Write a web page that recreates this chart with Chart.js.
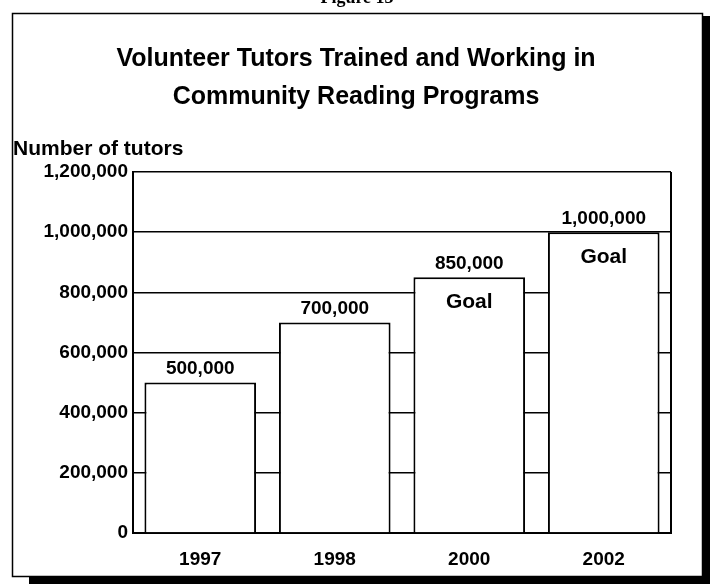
<!DOCTYPE html>
<html>
<head>
<meta charset="utf-8">
<script src="https://cdn.jsdelivr.net/npm/chart.js@4/dist/chart.umd.min.js"></script>
<style>
  html, body { margin: 0; padding: 0; background: #fff; }
  #wrap { width: 710px; height: 584px; }
</style>
</head>
<body>
<div id="wrap"><canvas id="chart" width="710" height="584"></canvas></div>
<script>
// ── Données ─────────────────────────────────────────────────────────
const years       = ['1997', '1998', '2000', '2002']
const tutors      = [500000, 700000, 850000, 1000000]
const valueLabels = ['500,000', '700,000', '850,000', '1,000,000']
const goalFlags   = [false, false, true, true]
const yTicks      = [0, 200000, 400000, 600000, 800000, 1000000, 1200000]

const titleLines = ['Volunteer Tutors Trained and Working in', 'Community Reading Programs']
const axisTitle  = 'Number of tutors'
const figureNote = 'Figure 13'

const FONT = '"Liberation Sans", Arial, sans-serif'

// ── Cadre, titres, étiquettes ──────────────────────────────────────
const decor = {
    id: 'decor',
    beforeDraw(chart) {
        const c = chart.ctx
        c.save()
        // ombre du cadre
        c.fillStyle = '#000'
        c.fillRect(703, 16, 7, 568)
        c.fillRect(29, 577, 681, 7)
        // cadre
        c.strokeStyle = '#000'
        c.lineWidth = 1.5
        c.strokeRect(12.5, 13.5, 690, 563)
        // note figure (coupée en haut)
        c.fillStyle = '#000'
        c.textAlign = 'center'
        c.textBaseline = 'alphabetic'
        c.font = 'bold 18px "Liberation Serif", serif'
        c.fillText(figureNote, 357, 3)
        // titre
        c.font = 'bold 25px ' + FONT
        c.textBaseline = 'middle'
        c.fillText(titleLines[0], 356, 59)
        c.fillText(titleLines[1], 356, 97)
        // titre de l'axe
        c.textAlign = 'left'
        c.font = 'bold 21px ' + FONT
        c.fillText(axisTitle, 13, 149)
        c.restore()
    },
    beforeDatasetsDraw(chart) {
        const { ctx: c, chartArea: a } = chart
        c.save()
        c.strokeStyle = '#000'
        c.lineWidth = 2
        c.beginPath()
        c.moveTo(a.right, a.top)
        c.lineTo(a.right, a.bottom)
        c.moveTo(a.left, a.bottom)
        c.lineTo(a.right, a.bottom)
        c.stroke()
        c.restore()
    },
    afterDatasetsDraw(chart) {
        const c = chart.ctx
        const bars = chart.getDatasetMeta(0).data
        c.save()
        c.fillStyle = '#000'
        c.textAlign = 'center'
        bars.forEach((bar, i) => {
            c.font = 'bold 19px ' + FONT
            c.textBaseline = 'bottom'
            c.fillText(valueLabels[i], bar.x, bar.y - 4)
            if (goalFlags[i]) {
                c.font = 'bold 21px ' + FONT
                c.textBaseline = 'middle'
                c.fillText('Goal', bar.x, bar.y + 25)
            }
        })
        c.restore()
    }
}

new Chart(document.getElementById('chart'), {
    type: 'bar',
    data: {
        labels: years,
        datasets: [{
            data: tutors,
            backgroundColor: '#fff',
            borderColor: '#000',
            borderWidth: 2,
            categoryPercentage: 1,
            barPercentage: 0.83,
        }]
    },
    options: {
        responsive: false,
        animation: false,
        layout: { padding: { top: 172, right: 39, bottom: 11, left: 0 } },
        plugins: { legend: { display: false }, title: { display: false }, tooltip: { enabled: false } },
        scales: {
            x: {
                grid: { display: false, drawTicks: false },
                border: { display: true, color: '#000', width: 2 },
                ticks: { color: '#000', font: { family: FONT, size: 19, weight: 'bold' }, padding: 15 },
                afterFit: (s) => { s.height = 40 }
            },
            y: {
                min: 0,
                max: 1200000,
                afterBuildTicks: (s) => { s.ticks = yTicks.map(v => ({ value: v })) },
                grid: { color: '#000', lineWidth: 1.5, drawTicks: false },
                border: { display: true, color: '#000', width: 2 },
                ticks: {
                    color: '#000',
                    padding: 5,
                    font: { family: FONT, size: 19, weight: 'bold' },
                    callback: (v) => v.toLocaleString('en-US')
                },
                afterFit: (s) => { s.width = 133 }
            }
        }
    },
    plugins: [decor]
})
</script>
</body>
</html>
